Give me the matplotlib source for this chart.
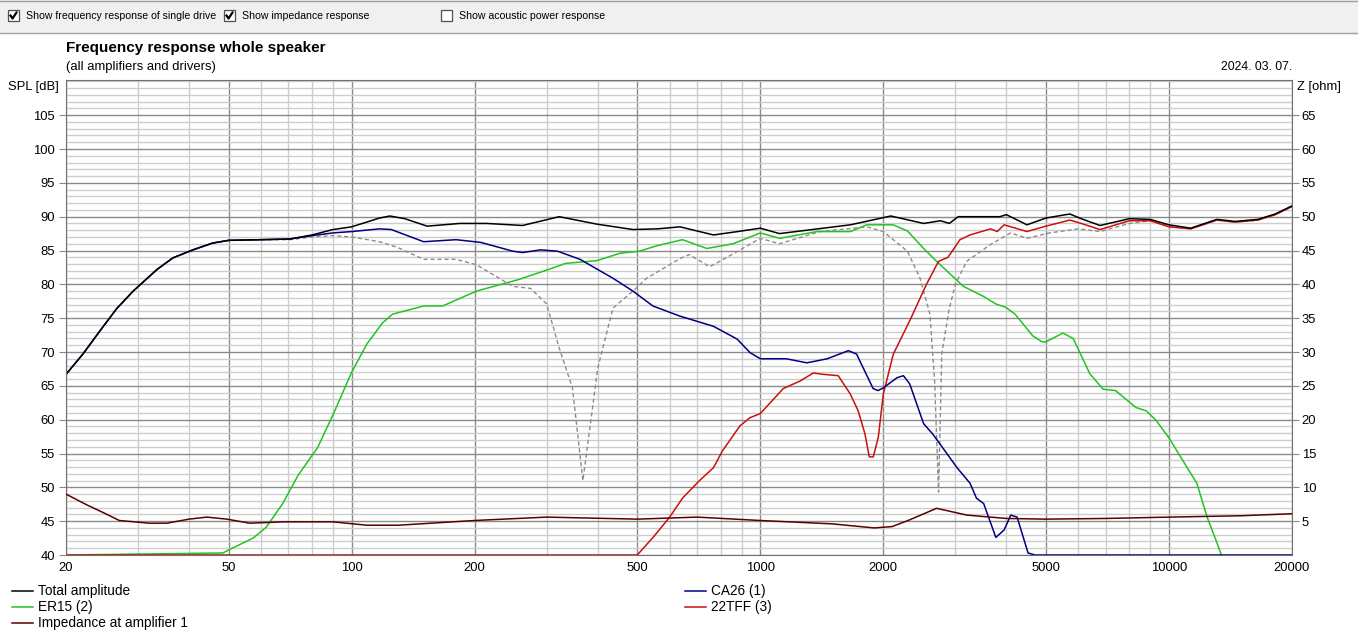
import matplotlib
matplotlib.use('Agg')
import matplotlib.pyplot as plt
import matplotlib.ticker as mtick
from matplotlib.lines import Line2D
from matplotlib.patches import Rectangle

plt.rcParams['font.family'] = ['Liberation Sans', 'DejaVu Sans']

# --- data ---
total_f = [20, 22, 24.2, 26.6, 29.2, 33.4, 36.5, 40.9, 45.7, 50, 60, 70.6, 80, 90, 100, 117, 124,
           135, 153, 184, 214, 262, 322, 398, 488, 560, 636, 768, 880, 1000, 1114, 1426, 1662, 2086,
           2510, 2760, 2900, 3050, 3856, 4000, 4493, 5000, 5720, 6100, 6780, 8000, 9000, 10000,
           11300, 13100, 14500, 16500, 18200, 20000]
total_spl = [66.7, 69.7, 73.1, 76.4, 79.0, 82.2, 83.9, 85.1, 86.1, 86.5, 86.6, 86.7, 87.3, 88.1,
             88.5, 89.8, 90.1, 89.7, 88.6, 89.0, 89.0, 88.7, 90.0, 88.9, 88.1, 88.2, 88.5, 87.3,
             87.8, 88.3, 87.5, 88.3, 88.8, 90.1, 89.0, 89.4, 89.0, 90.0, 90.0, 90.3, 88.8, 89.8,
             90.4, 89.7, 88.7, 89.7, 89.6, 88.8, 88.3, 89.6, 89.3, 89.6, 90.4, 91.6]

ca26_f = [20, 22, 24.2, 26.6, 29.2, 33.4, 36.5, 40.9, 45.7, 50, 60, 70.6, 80, 90, 100, 117, 125, 150,
          180, 207, 248, 262, 290, 319, 362, 436, 488, 546, 636, 768, 878, 944, 1000, 1158, 1300,
          1458, 1642, 1720, 1888, 1940, 2000, 2160, 2240, 2320, 2510, 2640, 2790, 3030, 3260, 3380,
          3520, 3770, 3950, 4100, 4250, 4520, 4700, 20000]
ca26_spl = [66.7, 69.7, 73.1, 76.4, 79.0, 82.2, 83.9, 85.1, 86.1, 86.5, 86.6, 86.7, 87.2, 87.6,
            87.8, 88.2, 88.1, 86.3, 86.6, 86.2, 84.9, 84.7, 85.1, 84.9, 83.7, 80.9, 79.0, 76.8, 75.3,
            73.8, 71.9, 69.9, 69.0, 69.0, 68.4, 69.0, 70.2, 69.7, 64.6, 64.3, 64.7, 66.2, 66.5, 65.3,
            59.4, 57.9, 55.9, 52.9, 50.6, 48.4, 47.6, 42.6, 43.7, 45.9, 45.6, 40.3, 40.0, 40.0]

er15_f = [20, 48.4, 50.6, 57.4, 61.8, 67.8, 74, 82.6, 90.3, 100, 109, 119, 126, 150, 167, 202, 256,
          310, 334, 398, 454, 506, 558, 645, 740, 858, 1000, 1114, 1376, 1662, 1822, 2112, 2290, 2510,
          2700, 3140, 3520, 3770, 3990, 4200, 4640, 4890, 5000, 5500, 5830, 6400, 6900, 7400, 8300,
          8800, 9300, 10000, 10800, 11700, 12400, 13100, 13400, 14000]
er15_spl = [40.0, 40.3, 40.9, 42.5, 44.1, 47.6, 51.8, 55.9, 60.9, 67.0, 71.2, 74.3, 75.6, 76.8, 76.8,
            79.0, 80.7, 82.4, 83.1, 83.5, 84.6, 84.9, 85.7, 86.6, 85.3, 86.0, 87.6, 86.8, 87.8, 87.8,
            88.8, 88.8, 87.9, 85.3, 83.4, 79.7, 78.2, 77.1, 76.6, 75.6, 72.4, 71.5, 71.5, 72.8, 72.0,
            66.8, 64.5, 64.3, 61.8, 61.3, 59.9, 57.3, 54.0, 50.6, 45.6, 41.8, 40.2, 38.0]

tff_f = [20, 500, 550, 600, 645, 710, 768, 808, 892, 944, 1000, 1138, 1250, 1348, 1426, 1551, 1660,
         1736, 1803, 1848, 1890, 1944, 2000, 2116, 2320, 2550, 2730, 2880, 3080, 3260, 3660, 3800,
         3950, 4490, 5000, 5720, 6100, 6780, 8000, 9000, 10000, 11300, 13100, 14500, 16500, 18200,
         20000]
tff_spl = [40.0, 40.0, 42.8, 45.6, 48.4, 51.0, 52.9, 55.4, 59.1, 60.3, 60.9, 64.6, 65.7, 66.9, 66.7,
           66.5, 63.8, 61.3, 57.9, 54.5, 54.5, 57.4, 63.8, 69.7, 74.6, 80.0, 83.4, 84.0, 86.6, 87.3,
           88.2, 87.8, 88.8, 87.8, 88.6, 89.5, 89.0, 88.1, 89.4, 89.4, 88.5, 88.2, 89.5, 89.2, 89.5,
           90.3, 91.5]

# dashed grey curve
sum_f = [20, 22, 24.2, 26.6, 29.2, 33.4, 36.5, 40.9, 45.7, 50, 60, 70.6, 80, 90, 100, 117, 129, 150,
         180, 202, 248, 274, 300, 322, 347, 368, 384, 400, 436, 488, 527, 636, 670, 752, 858, 1000,
         1114, 1400, 1822, 2000, 2290, 2460, 2600, 2670, 2730, 2780, 2890, 3000, 3200, 3660, 4100,
         4490, 5100, 6000, 6780, 8000, 9000, 10000, 11300, 13100, 14500, 16500, 18200, 20000]
sum_spl = [66.7, 69.7, 73.1, 76.4, 79.0, 82.2, 83.9, 85.1, 86.1, 86.5, 86.6, 86.6, 87.0, 87.2, 87.0,
           86.3, 85.5, 83.7, 83.7, 82.9, 79.7, 79.4, 77.1, 70.6, 64.7, 51.0, 59.4, 67.6, 76.5, 79.0,
           80.9, 83.8, 84.4, 82.6, 84.5, 86.8, 86.0, 87.8, 88.5, 87.8, 84.9, 80.9, 75.6, 65.7, 49.3,
           69.7, 76.0, 80.0, 83.4, 85.9, 87.6, 86.8, 87.6, 88.2, 87.8, 89.0, 89.4, 88.6, 88.2, 89.5,
           89.2, 89.5, 90.3, 91.5]

imp_f = [20, 22.5, 25, 27, 32, 35.3, 40, 44.2, 49.5, 56.3, 68, 90, 109, 130, 200, 300, 500, 700,
         1000, 1500, 1900, 2100, 2300, 2700, 3200, 4000, 5000, 7000, 10000, 15000, 20000]
imp_ohm = [9.0, 7.4, 6.1, 5.1, 4.7, 4.7, 5.3, 5.6, 5.3, 4.7, 4.9, 4.9, 4.4, 4.4, 5.1, 5.6, 5.3,
           5.6, 5.1, 4.6, 4.0, 4.2, 5.1, 6.9, 5.9, 5.4, 5.3, 5.4, 5.6, 5.8, 6.1]

x_ticks = [20, 50, 100, 200, 500, 1000, 2000, 5000, 10000, 20000]
x_minor = [30, 40, 60, 70, 80, 90, 300, 400, 600, 700, 800, 900, 3000, 4000, 6000, 7000, 8000, 9000]
spl_ticks = list(range(40, 110, 5))
z_ticks = list(range(5, 70, 5))

C_TOTAL = '#000000'
C_CA26 = '#000080'
C_ER15 = '#22c422'
C_TFF = '#c81010'
C_IMP = '#5a0000'
C_SUM = '#8c8c8c'
MAJOR = '#8a8a8a'
MINOR = '#cdcdcd'
FS = 9.4

fig = plt.figure(figsize=(13.58, 6.35), dpi=100)
fig.patch.set_facecolor('white')
W, H = 1358, 635


def fx(px):
    return px / W


def fy(py):
    return 1 - py / H


# top option strip
fig.add_artist(Rectangle((0, fy(33)), 1, 33 / H, transform=fig.transFigure,
                         facecolor='#f0f0f0', edgecolor='none'))
fig.add_artist(Line2D([0, 1], [fy(32.5), fy(32.5)], color='#a0a0a0', lw=1))
fig.add_artist(Line2D([0, 1], [fy(0.5), fy(0.5)], color='#a0a0a0', lw=1))


def checkbox(px, label, checked):
    fig.add_artist(Rectangle((fx(px), fy(21)), 11 / W, 11 / H, transform=fig.transFigure,
                             facecolor='white', edgecolor='#505050', lw=0.9))
    if checked:
        fig.add_artist(Line2D([fx(px + 2.5), fx(px + 4.5), fx(px + 8.5)],
                              [fy(15.5), fy(18.5), fy(12.5)], color='black', lw=1.6))
    fig.text(fx(px + 18), fy(16), label, fontsize=7.6, va='center', ha='left')


checkbox(8, 'Show frequency response of single drive', True)
checkbox(224, 'Show impedance response', True)
checkbox(441, 'Show acoustic power response', False)

fig.text(fx(66), fy(48), 'Frequency response whole speaker', fontsize=11, fontweight='bold',
         va='center', ha='left')
fig.text(fx(66), fy(67), '(all amplifiers and drivers)', fontsize=9.4, va='center', ha='left')
fig.text(fx(1292), fy(67), '2024. 03. 07.', fontsize=8.8, va='center', ha='right')
fig.text(fx(8), fy(87), 'SPL [dB]', fontsize=FS, va='center', ha='left')
fig.text(fx(1297), fy(87), 'Z [ohm]', fontsize=FS, va='center', ha='left')

ax = fig.add_axes([fx(66), fy(555), (1292 - 66) / W, (555 - 80) / H])
ax.set_xscale('log')
ax.set_xlim(20, 20000)
ax.set_ylim(40, 110.2)

ax.set_xticks(x_ticks)
ax.set_xticks(x_minor, minor=True)
ax.xaxis.set_major_formatter(mtick.FuncFormatter(lambda v, p: f'{v:g}'))
ax.xaxis.set_minor_formatter(mtick.NullFormatter())
ax.set_yticks(spl_ticks)
ax.yaxis.set_minor_locator(mtick.MultipleLocator(1))
ax.tick_params(axis='x', which='both', length=0, labelsize=FS, pad=5)
ax.tick_params(axis='y', which='major', length=5, color=MAJOR, labelsize=FS, pad=3)
ax.tick_params(axis='y', which='minor', length=0)
ax.grid(which='major', color=MAJOR, lw=1.0)
ax.grid(which='minor', color=MINOR, lw=1.0)
ax.set_axisbelow(True)
for s in ax.spines.values():
    s.set_color('#707070')

ax2 = ax.twinx()
ax2.set_ylim(0, 70.2)
ax2.set_yticks(z_ticks)
ax2.tick_params(axis='y', length=5, color=MAJOR, labelsize=FS, pad=2)
for s in ax2.spines.values():
    s.set_visible(False)

ax.plot(sum_f, sum_spl, color=C_SUM, lw=1.0, ls=(0, (3, 2)))
ax.plot(er15_f, er15_spl, color=C_ER15, lw=1.1)
ax.plot(tff_f, tff_spl, color=C_TFF, lw=1.1)
ax.plot(ca26_f, ca26_spl, color=C_CA26, lw=1.1)
ax2.plot(imp_f, imp_ohm, color=C_IMP, lw=1.1)
ax.plot(total_f, total_spl, color=C_TOTAL, lw=1.1)

# legend, drawn like the program does it
legend_items = [
    (12, 591, C_TOTAL, 'Total amplitude'),
    (12, 607, C_ER15, 'ER15 (2)'),
    (12, 623, C_IMP, 'Impedance at amplifier 1'),
    (685, 591, C_CA26, 'CA26 (1)'),
    (685, 607, C_TFF, '22TFF (3)'),
]
for lx, ly, col, txt in legend_items:
    fig.add_artist(Line2D([fx(lx), fx(lx + 21)], [fy(ly), fy(ly)], color=col, lw=1.1))
    fig.text(fx(lx + 26), fy(ly), txt, fontsize=9.8, va='center', ha='left')

fig.savefig('out.png', dpi=100)
